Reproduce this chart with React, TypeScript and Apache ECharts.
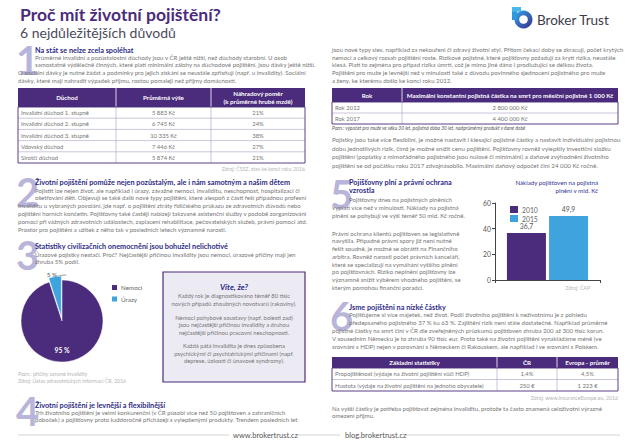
import React, { useEffect, useRef } from "react";
import * as echarts from "echarts";

// ---------- data ----------
const pieNames = ["Nemoci", "Úrazy"];
const pieValues = [95, 5];
const barYears = ["2010", "2015"];
const barValues = [36.7, 49.9];
const barAxisMax = 60;
const barAxisStep = 20;

const pensionHeader = ["Důchod", "Průměrná výše", "Náhradový poměr", "(k průměrné hrubé mzdě)"];
const pensionRows = [
  ["Invalidní důchod 1. stupně", "5 883 Kč", "21%"],
  ["Invalidní důchod 2. stupně", "6 745 Kč", "24%"],
  ["Invalidní důchod 3. stupně", "10 335 Kč", "38%"],
  ["Vdovský důchod", "7 446 Kč", "27%"],
  ["Sirotčí důchod", "5 874 Kč", "21%"],
];
const sumHeader = ["Rok", "Maximální konstantní pojistná částka na smrt pro měsíční pojistné 1 000 Kč"];
const sumRows = [
  ["Rok 2012", "2 800 000 Kč"],
  ["Rok 2017", "4 400 000 Kč"],
];
const statsHeader = ["Základní statistiky", "ČR", "Evropa - průměr"];
const statsRows = [
  ["Propojištěnost (výdaje na životní pojištění vůči HDP)", "1,4%", "4,5%"],
  ["Hustota (výdaje na životní pojištění na jednoho obyvatele)", "250 €", "1 223 €"],
];

const title = "Proč mít životní pojištění?";
const subtitle = "6 nejdůležitějších důvodů";

const s1Head = "Na stát se nelze zcela spoléhat";
const s1Lines = [
  "Průměrné invalidní a pozůstalostní důchody jsou v ČR ještě nižší, než důchody starobní. U osob",
  "samostatně výdělečně činných, které platí minimální zálohy na důchodové pojištění, jsou dávky ještě nižší.",
  "O sociální dávky je nutné žádat a podmínky pro jejich získání se neustále zpřísňují (např. u invalidity). Sociální",
  "dávky, které mají nahradit výpadek příjmu, rostou pomaleji než příjmy domácností.",
];
const s1Source = "Zdroj: ČSSZ, stav ke konci roku 2016";

const s2Head = "Životní pojištění pomůže nejen pozůstalým, ale i nám samotným a našim dětem";
const s2Lines = [
  "Pojistit lze nejen život, ale například i úrazy, závažné nemoci, invaliditu, neschopnost, hospitalizaci či",
  "ošetřování dětí. Objevují se také další nové typy pojištění, které alespoň z části řeší případnou profesní",
  "invaliditu u vybraných povolání, jde např. o pojištění ztráty řidičského průkazu ze zdravotních důvodů nebo",
  "pojištění horních končetin. Pojišťovny také častěji nabízejí takzvané asistenční služby v podobě zorganizování",
  "pomoci při vážných zdravotních událostech, zaplacení rehabilitace, pečovatelských služeb, právní pomoci atd.",
  "Prostor pro pojištění a užitek z něho tak v posledních letech významně narostl.",
];

const s3Head = "Statistiky civilizačních onemocnění jsou bohužel nelichotivé";
const s3Lines = [
  "Úrazové pojistky nestačí. Proč? Nejčastější příčinou invalidity jsou nemoci, úrazové příčiny mají jen",
  "zhruba 5% podíl.",
];
const pieNotes = ["Pozn.: příčiny uznané invalidity", "Zdroj: Ústav zdravotnických informací ČR, 2016"];

const boxTitle = "Víte, že?";
const boxLines = [
  ["Každý rok je diagnostikováno téměř 80 tisíc", "nových případů zhoubných novotvarů (rakoviny)."],
  ["Nemoci pohybové soustavy (např. bolesti zad)", "jsou nejčastější příčinou invalidity a druhou", "nejčastější příčinou pracovní neschopnosti."],
  ["Každá pátá invalidita je dnes způsobena", "psychickými či psychiatrickými příčinami (např.", "deprese, úzkosti či únavové syndromy)."],
];

const s4Head = "Životní pojištění je levnější a flexibilnější";
const s4Lines = [
  "Trh životního pojištění je velmi konkurenční (v ČR působí více než 50 pojišťoven a zahraničních",
  "poboček) a pojišťovny proto každoročně přicházejí s vylepšenými produkty. Trendem posledních let",
];
const s4Cont = [
  "jsou nové typy slev, například za nekouření či zdravý životní styl. Přitom čekací doby se zkracují, počet krytých",
  "nemocí a celkový rozsah pojištění roste. Rizikové pojistné, které pojišťovny požadují za krytí rizika, neustále",
  "klesá. Platí to zejména pro případ rizika úmrtí, což je mimo jiné dáno i prodlužující se délkou života.",
  "Pojištění pro muže je levnější než v minulosti také z důvodu povinného sjednocení pojistného pro muže",
  "a ženy, ke kterému došlo ke konci roku 2012.",
];
const sumNote = "Pozn.: výpočet pro muže ve věku 30 let, pojistná doba 30 let, nadprůměrný produkt v dané době";
const s4More = [
  "Pojistky jsou také více flexibilní, je možné nastavit i klesající pojistné částky a nastavit individuální pojistnou",
  "dobu jednotlivých rizik, čímž je možné snížit cenu pojištění. Pojišťovny rovněž vylepšily investiční složku",
  "pojištění (poplatky z mimořádného pojistného jsou nulové či minimální) a daňové zvýhodnění životního",
  "pojištění se od počátku roku 2017 zdvojnásobilo. Maximální daňový odpočet činí 24 000 Kč ročně.",
];

const s5Head = ["Pojišťovny plní a právní ochrana", "vzrostla"];
const s5Lines = [
  "Pojišťovny dnes na pojistných plněních",
  "vyplatí více než v minulosti. Náklady na pojistná",
  "plnění se pohybují ve výši téměř 50 mld. Kč ročně.",
];
const s5Lines2 = [
  "Právní ochrana klientů pojišťoven se legislativně",
  "navyšila. Případné právní spory již není nutné",
  "řešit soudně, je možné se obrátit na Finančního",
  "arbitra. Rovněž narostl počet právních kanceláří,",
  "které se specializují na vymáhání vyššího plnění",
  "po pojišťovnách. Riziko neplnění pojišťovny lze",
  "významně snížit výběrem vhodného pojištění, se",
  "kterým pomohou finanční poradci.",
];
const barTitle = ["Náklady pojišťoven na pojistná", "plnění v mld. Kč"];
const barSource = "Zdroj: ČAP";

const s6Head = "Jsme pojištěni na nízké částky";
const s6Lines = [
  "Pojišťujeme si více majetek, než život. Podíl životního pojištění k neživotnímu je z pohledu",
  "předepsaného pojistného 37 % ku 63 %. Zajištění rizik není stále dostatečné. Například průměrné",
  "pojistné částky na smrt činí v ČR dle zveřejněných průzkumů pojišťoven zhruba 200 až 300 tisíc korun.",
  "V sousedním Německu je to zhruba 90 tisíc eur. Proto také na životní pojištění vynakládáme méně (ve",
  "srovnání s HDP) nejen v porovnání s Německem či Rakouskem, ale například i ve srovnání s Polskem.",
];
const statsSource = "Zdroj: www.InsuranceEurope.eu, 2016";
const finalLines = [
  "Na vyšší částky je potřeba pojišťovat zejména invaliditu, protože ta často znamená celoživotní výrazné",
  "omezení příjmu.",
];
const footerLeft = "www.brokertrust.cz";
const footerRight = "blog.brokertrust.cz";
const brand = "Broker Trust";

// ---------- styles ----------
const PURPLE = "#4b2b7c";
const BLUE = "#3fa3de";
const HEAD = "#2d2b86";
const BODY = "#767676";
const NUM = "#b8b4da";
const LIGHT = "#b5b5b5";
const FONT = "Lato";

type TO = { size?: number; fill?: string; weight?: string; italic?: boolean; align?: string; z?: number };
const T = (x: number, y: number, text: string, o: TO = {}) => ({
  type: "text",
  x,
  y,
  z: o.z ?? 10,
  silent: true,
  style: {
    text,
    fill: o.fill ?? BODY,
    fontSize: o.size ?? 6.1,
    fontFamily: FONT,
    fontWeight: o.weight ?? "normal",
    fontStyle: o.italic ? "italic" : "normal",
    align: o.align ?? "left",
    verticalAlign: "middle",
  },
});
const L = (x1: number, y1: number, x2: number, y2: number, stroke: string, lw = 0.6, z = 5) => ({
  type: "line",
  z,
  silent: true,
  shape: { x1, y1, x2, y2 },
  style: { stroke, lineWidth: lw },
});
const R = (x: number, y: number, w: number, h: number, style: any, z = 4) => ({
  type: "rect",
  z,
  silent: true,
  shape: { x, y, width: w, height: h },
  style,
});

function para(lines: string[], x: number, y0: number, lh: number, indentX?: number, indentN = 0, o: TO = {}) {
  return lines.map((t, i) => T(i < indentN && indentX != null ? indentX : x, y0 + i * lh, t, o));
}

function table(
  cols: number[],
  yTop: number,
  headH: number,
  rowH: number,
  headerCells: (string | string[])[],
  rows: string[][],
  aligns: string[]
) {
  const els: any[] = [];
  const x0 = cols[0];
  const x1 = cols[cols.length - 1];
  const bodyTop = yTop + headH;
  const bodyBottom = bodyTop + rows.length * rowH;
  els.push(R(x0, yTop, x1 - x0, headH, { fill: PURPLE }));
  for (let c = 1; c < cols.length - 1; c++) {
    els.push(L(cols[c], yTop, cols[c], yTop + headH, "#ffffff", 0.8, 6));
    els.push(L(cols[c], bodyTop, cols[c], bodyBottom, "#a99fc4", 0.6, 6));
  }
  headerCells.forEach((h, c) => {
    const cx = (cols[c] + cols[c + 1]) / 2;
    if (Array.isArray(h)) {
      els.push(T(cx, yTop + headH / 2 - 4, h[0], { fill: "#fff", weight: "bold", align: "center", size: 6.2 }));
      els.push(T(cx, yTop + headH / 2 + 4, h[1], { fill: "#fff", weight: "bold", align: "center", size: 6.2 }));
    } else {
      els.push(T(cx, yTop + headH / 2, h, { fill: "#fff", weight: "bold", align: "center", size: 6.2 }));
    }
  });
  rows.forEach((r, i) => {
    const cy = bodyTop + i * rowH + rowH / 2;
    if (i > 0) els.push(L(x0, bodyTop + i * rowH, x1, bodyTop + i * rowH, "#a99fc4", 0.6, 6));
    r.forEach((cell, c) => {
      const al = aligns[c];
      const x = al === "left" ? cols[c] + 3 : (cols[c] + cols[c + 1]) / 2;
      els.push(T(x, cy, cell, { align: al, size: 5.9 }));
    });
  });
  els.push(R(x0, bodyTop, x1 - x0, bodyBottom - bodyTop, { fill: "none", stroke: PURPLE, lineWidth: 0.9 }, 7));
  return els;
}

function buildGraphics() {
  const g: any[] = [];
  // title
  g.push(T(20, 14, title, { size: 17.5, weight: "bold", fill: PURPLE }));
  g.push(T(20, 32, subtitle, { size: 14, fill: "#4c4a5c" }));

  // logo
  const grad = new echarts.graphic.LinearGradient(0, 0, 1, 1, [
    { offset: 0, color: "#33a9e6" },
    { offset: 1, color: "#3a2c8c" },
  ]);
  g.push({ type: "ring", z: 5, silent: true, shape: { cx: 523.5, cy: 19.5, r: 9, r0: 4.3 }, style: { fill: grad } });
  g.push(R(512, 7, 5.2, 13, { fill: "#3098dc" }, 6));
  g.push(R(512, 7, 9, 4.6, { fill: "#49b7ec" }, 6));
  g.push(T(537, 19.5, brand, { size: 13.5, fill: "#3c3b4a" }));

  // big numerals
  const num = (x: number, y: number, n: string) => T(x, y, n, { size: 40, weight: "bold", fill: NUM, z: 2 });
  g.push(num(16, 60, "1"));
  g.push(num(16, 192, "2"));
  g.push(num(16, 255, "3"));
  g.push(num(16, 411, "4"));
  g.push(num(330, 194, "5"));
  g.push(num(330, 316, "6"));

  // section 1
  g.push(T(35, 50, s1Head, { size: 7.3, weight: "bold", fill: HEAD }));
  g.push(...para(s1Lines, 18, 57.3, 7.65, 35, 2));
  g.push(...table([18, 116, 211, 305], 88, 19, 11.2, [pensionHeader[0], pensionHeader[1], [pensionHeader[2], pensionHeader[3]]], pensionRows, ["left", "center", "center"]));
  g.push(T(305, 169, s1Source, { size: 5.2, fill: LIGHT, align: "right" }));

  // section 2
  g.push(T(35, 182, s2Head, { size: 7.3, weight: "bold", fill: HEAD }));
  g.push(...para(s2Lines, 18, 190, 7.8, 35, 2));

  // section 3
  g.push(T(35, 246.5, s3Head, { size: 7.3, weight: "bold", fill: HEAD }));
  g.push(...para(s3Lines, 35, 254, 7.5));
  g.push(T(18, 374, pieNotes[0], { size: 5.2, fill: LIGHT }));
  g.push(T(18, 381, pieNotes[1], { size: 5.2, fill: LIGHT }));

  // box
  g.push(R(163, 272, 142, 110, { fill: "#ecebf4", stroke: PURPLE, lineWidth: 1.2 }, 3));
  g.push(T(234, 287, boxTitle, { size: 8, weight: "bold", italic: true, fill: HEAD, align: "center" }));
  g.push(...para(boxLines[0], 234, 295.5, 7.5, undefined, 0, { align: "center", size: 5.9 }));
  g.push(...para(boxLines[1], 234, 317, 7.5, undefined, 0, { align: "center", size: 5.9 }));
  g.push(...para(boxLines[2], 234, 345.5, 7.5, undefined, 0, { align: "center", size: 5.9 }));

  // section 4
  g.push(T(35, 405, s4Head, { size: 7.3, weight: "bold", fill: HEAD }));
  g.push(...para(s4Lines, 35, 412, 7.3));

  // right column
  g.push(...para(s4Cont, 332, 49.3, 7.75));
  g.push(...table([332, 402, 618], 88, 14, 11, sumHeader, sumRows, ["left", "center"]));
  g.push(T(332, 128, sumNote, { size: 4.9, italic: true, fill: "#555" }));
  g.push(...para(s4More, 332, 139.5, 8.5, undefined, 0, { size: 6.2 }));

  // section 5
  g.push(T(349, 182, s5Head[0], { size: 7.3, weight: "bold", fill: HEAD }));
  g.push(T(349, 190.5, s5Head[1], { size: 7.3, weight: "bold", fill: HEAD }));
  g.push(...para(s5Lines, 332, 199, 8, 349, 1));
  g.push(...para(s5Lines2, 332, 233, 7.75));
  g.push(T(598, 182, barTitle[0], { size: 6.2, fill: "#34349a", align: "right" }));
  g.push(T(598, 190.5, barTitle[1], { size: 6.2, fill: "#34349a", align: "right" }));
  g.push(T(590, 288, barSource, { size: 5.2, fill: LIGHT, align: "right" }));

  // section 6
  g.push(T(349, 307, s6Head, { size: 7.3, weight: "bold", fill: HEAD }));
  g.push(...para(s6Lines, 332, 314.5, 7.9, 349, 2));
  g.push(...table([332, 497, 557, 618], 357, 11, 11.5, statsHeader, statsRows, ["left", "center", "center"]));
  g.push(T(618, 398, statsSource, { size: 5.2, fill: LIGHT, align: "right" }));
  g.push(...para(finalLines, 332, 408, 7.3));

  // footer
  g.push(L(18, 435, 229, 435, "#c8c8c8", 0.8));
  g.push(L(298, 435, 340, 435, "#c8c8c8", 0.8));
  g.push(L(405, 435, 620, 435, "#c8c8c8", 0.8));
  g.push(T(233, 435, footerLeft, { size: 7.5, fill: "#555" }));
  g.push(T(345, 435, footerRight, { size: 7.5, fill: "#555" }));
  return g;
}

export default function App() {
  const ref = useRef<HTMLDivElement>(null);
  useEffect(() => {
    document.body.style.margin = "0";
    const chart = echarts.init(ref.current!, null, { renderer: "svg" });
    const pieColors = [PURPLE, BLUE];
    const barColors = [PURPLE, BLUE];
    chart.setOption({
      animation: false,
      backgroundColor: "#ffffff",
      textStyle: { fontFamily: FONT },
      legend: [
        {
          data: pieNames,
          left: 105,
          top: 278,
          orient: "vertical",
          itemWidth: 7,
          itemHeight: 7,
          itemGap: 2.5,
          icon: "rect",
          selectedMode: false,
          textStyle: { fontSize: 6.3, color: "#666", padding: [0, 0, 0, -2] },
        },
        {
          data: barYears,
          left: 505,
          top: 201,
          orient: "vertical",
          itemWidth: 8,
          itemHeight: 7,
          itemGap: 2,
          icon: "rect",
          selectedMode: false,
          textStyle: { fontSize: 6.8, color: "#666", padding: [0, 0, 0, -1] },
        },
      ],
      grid: { left: 495, top: 203, width: 105, height: 77, containLabel: false },
      xAxis: {
        type: "category",
        data: [""],
        axisLine: { lineStyle: { color: "#444", width: 1 } },
        axisTick: { show: true, length: 3, lineStyle: { color: "#444" } },
        axisLabel: { show: false },
      },
      yAxis: {
        type: "value",
        min: 0,
        max: barAxisMax,
        interval: barAxisStep,
        axisLine: { show: true, lineStyle: { color: "#444", width: 1 } },
        axisTick: { show: true, length: 3, lineStyle: { color: "#444" } },
        axisLabel: { fontSize: 6.8, color: "#555", margin: 4 },
        splitLine: { show: false },
      },
      series: [
        ...barYears.map((y, i) => ({
          type: "bar",
          name: y,
          data: [barValues[i]],
          barWidth: 39,
          barGap: "8%",
          itemStyle: { color: barColors[i] },
          label: {
            show: true,
            position: "top",
            distance: 3,
            fontSize: 6.8,
            color: "#555",
            formatter: (p: any) => String(p.value).replace(".", ","),
          },
        })),
        {
          type: "pie",
          name: "Příčiny",
          center: [62, 321],
          radius: 41,
          startAngle: 90,
          selectedMode: "single",
          selectedOffset: 4,
          itemStyle: { borderColor: "#fff", borderWidth: 0.5 },
          labelLayout: (p: any) =>
            p.dataIndex === 0
              ? { x: 62, y: 350, align: "center", verticalAlign: "middle" }
              : { x: 67, y: 279, align: "left", verticalAlign: "middle" },
          data: pieNames.map((n, i) => ({
            name: n,
            value: pieValues[i],
            selected: i === 1,
            itemStyle: { color: pieColors[i] },
            label:
              i === 0
                ? { show: true, position: "inside", color: "#fff", fontWeight: "bold", fontSize: 6.8, formatter: "{c} %" }
                : { show: true, position: "outside", color: "#555", fontSize: 6.3, formatter: "{c} %" },
            labelLine: i === 0 ? { show: false } : { show: true, length: 2, length2: 3, lineStyle: { color: "#555", width: 0.6 } },
          })),
        },
      ],
      graphic: { elements: buildGraphics() },
    });
    return () => chart.dispose();
  }, []);
  return <div ref={ref} style={{ width: 637, height: 447, position: "absolute", left: 0, top: 0 }} />;
}
